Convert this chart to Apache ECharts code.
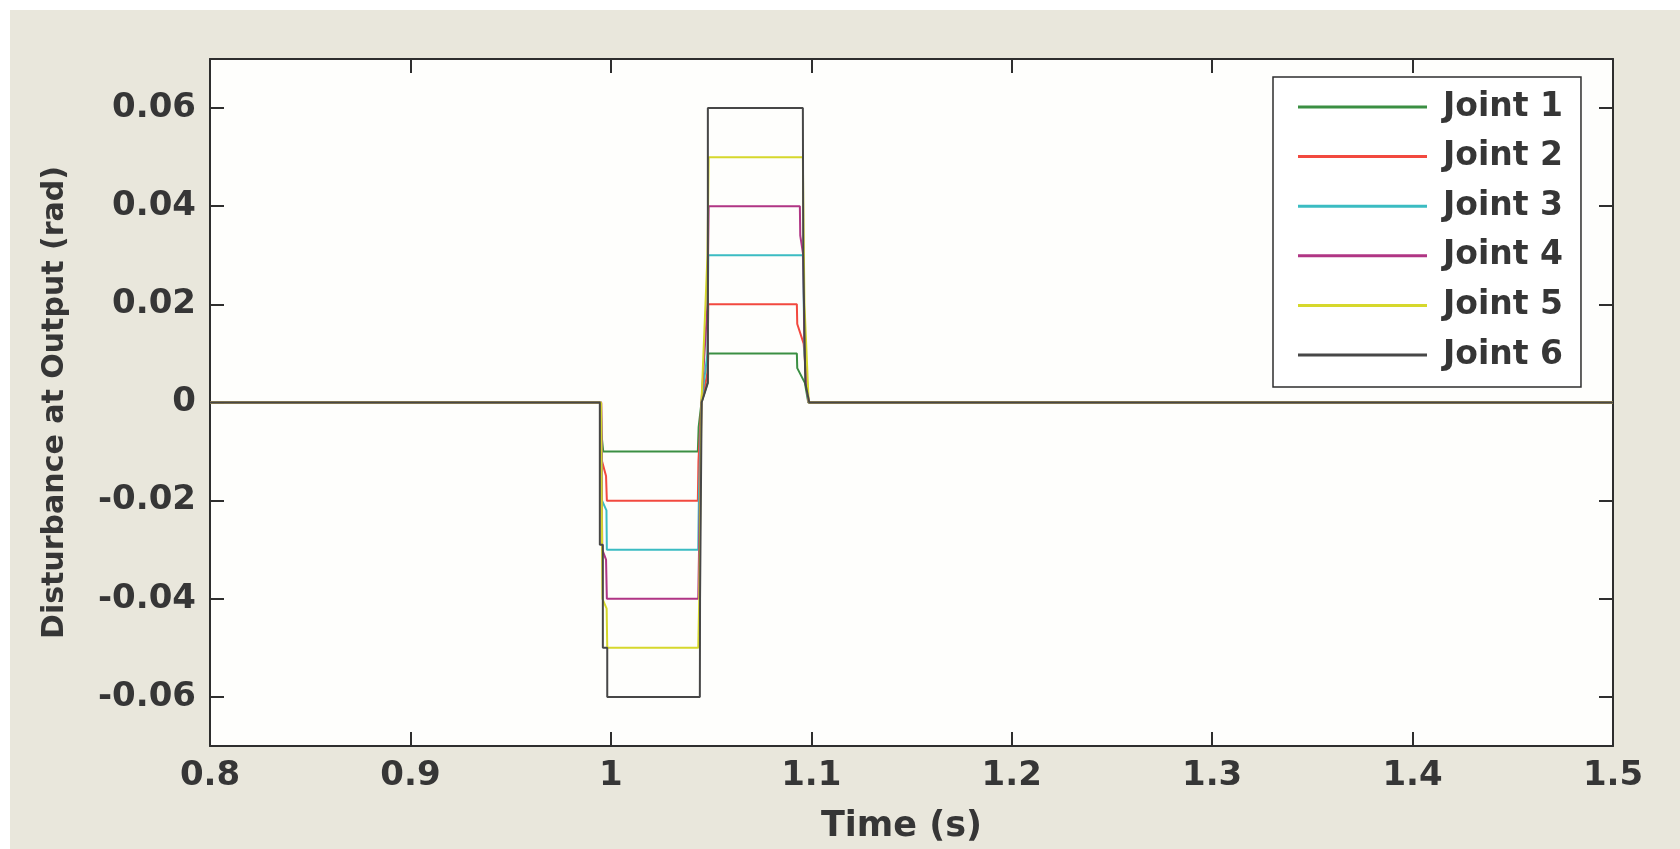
<!DOCTYPE html>
<html>
<head>
<meta charset="utf-8">
<script src="https://cdn.jsdelivr.net/npm/echarts@6/dist/echarts.min.js"></script>
<style>
  html, body { margin: 0; padding: 0; width: 1680px; height: 849px; overflow: hidden; background: #ffffff; }
  #panel { position: absolute; left: 10px; top: 10px; width: 1670px; height: 839px; background: #e9e7dc; }
  #chart { position: absolute; left: 0; top: 0; width: 1680px; height: 849px; }
</style>
</head>
<body>
<div id="panel"></div>
<div id="chart"></div>
<script>
// Joint names and line colours
const jointNames = ['Joint 1', 'Joint 2', 'Joint 3', 'Joint 4', 'Joint 5', 'Joint 6'];
const jointColors = ['#3b8f43', '#f2493f', '#3bbcc2', '#b03584', '#d6d82c', '#474747'];

// Disturbance samples [time (s), disturbance (rad)] for each joint
const joint1 = [[0.8, 0], [0.9950, 0], [0.9952, -0.006], [0.9962, -0.01], [1.0434, -0.01], [1.0438, -0.005], [1.0452, 0],
  [1.0482, 0.004], [1.0486, 0.01], [1.0928, 0.01], [1.0930, 0.007], [1.0968, 0.004], [1.0985, 0], [1.5, 0]];
const joint2 = [[0.8, 0], [0.9952, 0], [0.9956, -0.012], [0.9976, -0.015], [0.9980, -0.02], [1.0434, -0.02], [1.0437, -0.012], [1.0452, 0],
  [1.0482, 0.006], [1.0486, 0.02], [1.0928, 0.02], [1.0930, 0.016], [1.0962, 0.012], [1.0980, 0.002], [1.0988, 0], [1.5, 0]];
const joint3 = [[0.8, 0], [0.9951, 0], [0.9956, -0.02], [0.9978, -0.022], [0.9980, -0.03], [1.0436, -0.03], [1.0439, -0.02], [1.0452, 0],
  [1.0482, 0.01], [1.0486, 0.03], [1.0958, 0.03], [1.0960, 0.027], [1.0966, 0.01], [1.0985, 0], [1.5, 0]];
const joint4 = [[0.8, 0], [0.9951, 0], [0.9957, -0.03], [0.9976, -0.032], [0.9980, -0.04], [1.0436, -0.04], [1.0440, -0.03], [1.0452, 0],
  [1.0482, 0.02], [1.0488, 0.04], [1.0943, 0.04], [1.0945, 0.034], [1.0960, 0.03], [1.0966, 0.012], [1.0986, 0], [1.5, 0]];
const joint5 = [[0.8, 0], [0.9951, 0], [0.9958, -0.04], [0.9979, -0.042], [0.9982, -0.05], [1.0436, -0.05], [1.0441, -0.04], [1.0452, 0],
  [1.0482, 0.03], [1.0488, 0.05], [1.0958, 0.05], [1.0960, 0.041], [1.0966, 0.02], [1.0987, 0], [1.5, 0]];
const joint6 = [[0.8, 0], [0.9945, 0], [0.9945, -0.029], [0.9960, -0.029], [0.9960, -0.05], [0.9982, -0.05], [0.9982, -0.06], [1.0444, -0.06],
  [1.0445, -0.04], [1.0453, 0], [1.0484, 0.004], [1.0484, 0.06], [1.0958, 0.06], [1.0960, 0.03], [1.0970, 0.004], [1.0990, 0], [1.5, 0]];
const jointData = [joint1, joint2, joint3, joint4, joint5, joint6];

// Axis ticks
const timeTicks = [0.8, 0.9, 1.0, 1.1, 1.2, 1.3, 1.4, 1.5];
const disturbanceTicks = [-0.06, -0.04, -0.02, 0, 0.02, 0.04, 0.06];

const FONT = 'DejaVu Sans';
const INK = '#363636';
const FRAME = '#2e2e2e';

function timeLabel(v) { return String(parseFloat(v.toFixed(1))); }
function radLabel(v) { return Math.abs(v) < 1e-9 ? '0' : v.toFixed(2); }

const tickBase = { show: true, inside: true, length: 14, lineStyle: { color: FRAME, width: 2 } };
const lineBase = { show: true, onZero: false, lineStyle: { color: FRAME, width: 2 } };

const chart = echarts.init(document.getElementById('chart'), null, { renderer: 'canvas' });
chart.setOption({
  backgroundColor: 'transparent',
  animation: false,
  grid: {
    left: 210, top: 59, width: 1403, height: 691,
    show: true, backgroundColor: '#fefefc', borderWidth: 0
  },
  legend: {
    data: jointNames,
    orient: 'vertical',
    left: 1273, top: 77,
    padding: [10, 18, 12, 25],
    itemGap: 9.6,
    itemWidth: 129, itemHeight: 3,
    icon: 'rect',
    backgroundColor: '#ffffff',
    borderColor: FRAME, borderWidth: 1.5,
    textStyle: { fontFamily: FONT, fontWeight: 'bold', fontSize: 33, color: INK, lineHeight: 40, padding: [0, 0, 0, 11] }
  },
  xAxis: [{
    type: 'value', position: 'bottom',
    min: 0.8, max: 1.5, interval: 0.1,
    name: 'Time (s)', nameLocation: 'middle', nameGap: 63,
    nameTextStyle: { fontFamily: FONT, fontWeight: 'bold', fontSize: 35, color: INK, padding: [0, 20, 0, 0] },
    axisLine: lineBase,
    axisTick: Object.assign({ customValues: timeTicks }, tickBase),
    axisLabel: { customValues: timeTicks, formatter: timeLabel, margin: 13, fontFamily: FONT, fontWeight: 'bold', fontSize: 34, color: INK },
    splitLine: { show: false }
  }, {
    type: 'value', position: 'top',
    min: 0.8, max: 1.5, interval: 0.1,
    axisLine: lineBase,
    axisTick: Object.assign({ customValues: timeTicks }, tickBase),
    axisLabel: { show: false },
    splitLine: { show: false }
  }],
  yAxis: [{
    type: 'value', position: 'left',
    min: -0.07, max: 0.07,
    name: 'Disturbance at Output (rad)', nameLocation: 'middle', nameGap: 140, nameRotate: 90,
    nameTextStyle: { fontFamily: FONT, fontWeight: 'bold', fontSize: 30, color: INK },
    axisLine: lineBase,
    axisTick: Object.assign({ customValues: disturbanceTicks }, tickBase),
    axisLabel: { customValues: disturbanceTicks, formatter: radLabel, margin: 14, fontFamily: FONT, fontWeight: 'bold', fontSize: 34, color: INK },
    splitLine: { show: false }
  }, {
    type: 'value', position: 'right',
    min: -0.07, max: 0.07,
    axisLine: lineBase,
    axisTick: Object.assign({ customValues: disturbanceTicks }, tickBase),
    axisLabel: { show: false },
    splitLine: { show: false }
  }],
  series: jointNames.map((name, i) => ({
    name: name,
    type: 'line',
    xAxisIndex: 0, yAxisIndex: 0,
    data: jointData[i],
    showSymbol: false,
    symbol: 'none',
    lineStyle: { color: jointColors[i], width: 2 },
    itemStyle: { color: jointColors[i] },
    z: 2 + i,
    emphasis: { disabled: true }
  }))
});
</script>
</body>
</html>
